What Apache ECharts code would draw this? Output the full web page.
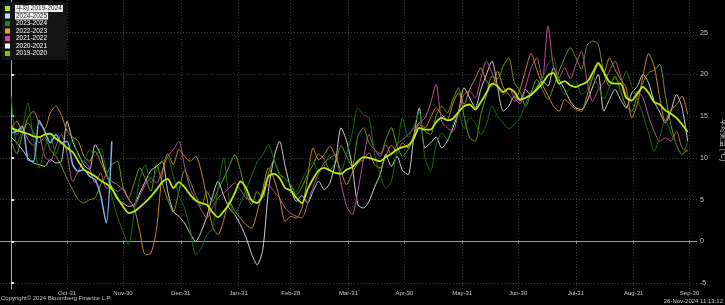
<!DOCTYPE html>
<html><head><meta charset="utf-8">
<script src="https://cdn.jsdelivr.net/npm/echarts@6/dist/echarts.min.js"></script>
<style>html,body{margin:0;padding:0;background:#000;}#c{width:725px;height:305px;}</style>
</head><body><div id="c"></div>
<script>
// Day index counted from Oct-1; every series is sampled every 3 days
const dayStep = 3;
const tickDays = [30, 60, 91, 122, 150, 181, 211, 242, 272, 303, 334, 364];
const tickLabels = ['Oct-31','Nov-30','Dec-31','Jan-31','Feb-28','Mar-31','Apr-30','May-31','Jun-30','Jul-31','Aug-31','Sep-30'];
const yTicks = [-5, 0, 5, 10, 15, 20, 25];
const seriesNames = ['平均 2019-2024','2024-2025','2023-2024','2022-2023','2021-2022','2020-2021','2019-2020'];

const avg = [13.6,13.3,13.1,12.9,12.6,12.5,12.8,12.9,12.3,11.8,
 11.2,10.7,9.6,8.6,8.2,7.8,7.3,6.9,6.3,5.2,
 4.2,3.4,3.6,4.1,4.7,5.4,6.2,7.1,7.5,6.4,
 7.1,6.5,5.6,4.9,4.6,4.4,3.5,2.9,3.6,4.5,
 5.8,7.2,6.4,4.9,4.6,5.6,7.8,8.1,7.6,6.4,
 6.1,5.2,4.6,6.2,7.5,8.5,8.8,8.5,8.2,8.1,
 8.6,8.9,9.6,10.1,10,9.8,9.6,10.1,10.5,11,
 11.3,11.5,12.3,13.6,13.4,13.4,14.3,14.8,14.5,14.7,
 15.5,16.2,16.4,15.8,16.7,17.8,18.9,18.6,17.9,18.3,
 17.9,17,17.2,17.6,18.2,18.9,19.9,20.2,18.9,19.2,
 18.7,18.5,18.8,19.1,20.2,21.4,20.3,19.1,18.9,18.9,
 17.2,16.9,17.7,18.5,17.8,16.7,16.4,15.7,15.3,14.8,14,13.1];

const y2024 = [13.0,13.2,13.8,9.8,9.6,14.5,13.2,11.8,12.8,11.8,12.0,9.2,8.4,8.6,7.8,7.4,5.5,2.2,12.0];

const y2023 = [17.4,11.6,13.5,16.6,12.0,8.8,11.2,12.6,10.5,12.0,
 10.8,12.4,10.2,9.6,11.0,10.2,11.2,8.5,5.4,3.0,
 1.2,-0.4,3.5,7.5,9.2,7.0,8.5,9.6,10.0,7.8,
 5.5,4.0,1.5,-1.6,-0.8,0.8,1.5,6.5,10.0,5.0,
 3.2,4.6,6.2,7.8,9.5,10.4,11.6,9.8,8.2,7.5,
 6.8,6.0,7.4,8.6,9.5,8.2,9.0,10.4,9.2,8.5,
 10.5,13.0,16.0,15.2,14.8,10.5,8.0,6.4,7.2,11.0,
 14.8,12.5,13.8,15.5,10.0,8.4,11.5,13.0,12.2,14.0,
 15.5,13.5,14.8,14.2,12.8,14.0,16.2,15.0,14.2,13.5,
 14.0,14.8,16.5,17.8,18.6,19.5,21.2,22.0,19.0,17.6,
 18.4,19.2,17.6,18.2,19.8,18.6,17.0,18.5,19.6,19.0,
 20.4,18.6,17.0,15.2,13.0,10.8,12.5,14.5,13.0,11.6,10.4,12.0];

const y2022 = [13.5,14.4,13.2,14.8,15.6,14.2,13.5,15.4,16.2,15.1,
 13.2,12.5,12.0,10.2,9.6,10.8,9.5,8.0,7.2,6.8,
 6.2,5.1,4.0,1.2,-1.6,-1.4,1.5,8.0,10.5,9.2,
 11.0,10.2,9.6,10.2,8.4,5.2,1.8,0.8,2.5,4.8,
 3.6,2.8,2.0,1.6,3.5,6.2,8.8,7.5,5.2,2.4,
 3.0,2.8,4.0,7.6,11.2,9.8,10.4,11.4,10.2,8.4,
 6.8,8.2,9.4,9.8,10.6,9.2,8.8,10.2,11.5,10.8,
 11.8,11.2,12.8,14.2,13.6,14.8,16.0,15.2,14.6,16.5,
 17.8,16.4,18.2,19.5,20.8,19.2,18.6,20.4,18.5,17.6,
 16.8,18.2,20.5,22.5,20.6,18.8,17.5,16.2,15.6,17.0,
 16.4,15.8,15.6,17.5,19.6,21.2,20.2,22.0,20.6,19.4,
 18.4,14.8,16.5,19.8,22.5,21.0,17.2,14.4,15.8,16.4,17.4,15.2];

const y2021 = [14.2,12.8,13.6,12.2,11.5,12.6,10.2,9.6,11.4,12.8,
 10.5,7.2,8.4,9.6,8.8,7.0,8.2,6.4,6.4,6.0,
 6.4,5.0,4.2,5.5,6.8,7.6,7.0,8.5,10.2,11.0,
 12.0,9.0,6.4,5.0,3.8,2.8,4.0,5.2,5.8,6.4,
 7.0,6.2,5.2,5.0,4.6,6.0,6.8,6.0,5.2,4.0,
 3.4,3.0,2.8,4.5,6.5,8.2,9.4,10.0,10.4,7.0,
 4.2,3.2,6.0,9.8,12.8,11.0,10.2,11.6,10.4,11.6,
 12.2,12.8,13.6,14.2,14.8,16.5,18.8,14.4,13.6,13.2,
 15.4,17.6,18.0,17.2,19.5,21.6,20.2,18.5,17.6,18.4,
 17.2,16.5,18.5,20.8,22.0,19.4,25.8,21.0,19.6,20.8,
 19.5,21.2,22.8,19.2,16.8,18.2,19.0,20.4,21.6,19.8,
 17.5,16.8,18.0,17.2,15.0,13.2,12.0,12.4,12.0,13.2,11.2,10.8];

const y2020 = [12.5,11.8,11.0,10.0,9.4,9.2,9.0,9.8,9.4,9.6,
 14.4,12.0,10.5,9.2,8.6,11.6,10.4,8.0,6.5,5.0,
 4.6,4.2,4.4,5.8,7.2,8.5,9.0,9.6,6.0,3.6,
 3.0,2.2,1.0,0.0,1.2,3.0,5.4,7.2,5.5,4.0,
 3.2,2.0,0.5,-1.5,-2.8,-1.0,6.0,10.0,12.0,9.0,
 6.4,4.8,5.5,4.6,6.0,7.2,6.2,7.0,9.5,13.6,
 12.0,9.0,4.4,4.0,4.8,6.5,8.0,10.4,9.0,10.2,
 8.5,8.0,12.5,16.0,11.2,11.8,12.5,11.2,12.0,13.6,
 15.5,18.4,17.2,16.0,18.2,20.0,21.6,18.5,15.6,16.2,
 17.4,16.8,18.2,17.5,18.4,19.2,18.6,20.8,19.4,18.2,
 16.8,16.0,15.8,16.8,18.5,20.0,15.6,17.0,18.2,17.0,
 16.0,17.8,18.6,20.0,19.0,16.8,15.5,14.2,15.6,17.6,16.0,12.0];

const y2019 = [12.0,10.5,12.8,14.2,13.0,11.8,12.5,11.0,10.2,9.0,
 7.5,6.2,5.0,4.6,5.0,5.2,6.8,8.0,9.2,9.6,
 6.5,5.2,7.0,8.8,7.5,6.0,9.2,7.0,5.0,3.5,
 6.0,8.5,7.2,5.5,4.2,6.0,4.8,6.2,7.5,9.0,
 10.4,8.5,5.8,4.4,6.0,5.2,8.2,9.6,8.0,7.5,
 6.8,5.6,6.5,8.0,9.2,10.5,9.8,8.6,9.4,11.5,
 10.2,9.0,12.6,13.6,11.8,11.0,10.5,12.2,13.6,11.5,
 10.2,11.0,12.4,14.0,13.2,12.8,15.0,16.2,15.4,17.0,
 18.4,15.0,12.4,12.0,15.2,17.5,19.8,19.5,21.0,22.0,
 19.0,18.0,16.2,17.8,19.4,18.2,17.0,18.5,20.4,22.0,
 23.2,22.0,20.6,23.5,24.0,23.6,20.2,18.6,19.8,18.0,
 16.2,15.6,17.5,19.0,20.2,20.5,21.2,17.5,14.0,11.5,10.4,11.0];

const colors = ['#b6ea12','#78b4f0','#0f720f','#c38a18','#bf4f98','#d2d2d2','#6c9a12'];
const legendColors = ['#a6e022','#c8dcf4','#1a8a1a','#f2a400','#e0449e','#ffffff','#82c200'];
const seriesValues = [avg, y2024, y2023, y2022, y2021, y2020, y2019];

function toPairs(arr){ return arr.map((v,i)=>[i*dayStep, v]); }

const chart = echarts.init(document.getElementById('c'), null, {renderer:'canvas'});
const font = 'Arial, "Liberation Sans", "Noto Sans CJK JP", sans-serif';

const series = seriesNames.map((name, k) => ({
  name: name,
  type: 'line',
  data: toPairs(seriesValues[k]),
  showSymbol: false,
  smooth: 0.25,
  color: colors[k],
  lineStyle: {width: k === 0 ? 1.8 : (k === 1 ? 1.5 : 1), color: colors[k]},
  z: k === 0 ? 20 : (k === 1 ? 19 : 10 - k),
  animation: false
}));

chart.setOption({
  backgroundColor: '#000',
  animation: false,
  textStyle: {fontFamily: font},
  grid: {left: 0, right: 28, top: -9, bottom: 16, containLabel: false, outerBoundsMode: 'none'},
  legend: {
    orient: 'vertical', left: 2, top: 2, padding: [3, 4, 3, 3],
    backgroundColor: '#141414',
    icon: 'rect', itemWidth: 5, itemHeight: 5, itemGap: 0.5,
    textStyle: {color: '#ffffff', fontSize: 6.5, lineHeight: 7, fontFamily: font, padding: [0, 1, 0, 1]},
    data: seriesNames.map((n, k) => ({
      name: n,
      itemStyle: {color: legendColors[k]},
      textStyle: k < 2 ? {backgroundColor: '#f2f2f2', color: '#222'} : {}
    }))
  },
  xAxis: {
    type: 'value', min: -6, max: 368,
    axisLine: {show: true, lineStyle: {color: '#9a9a9a', width: 1}},
    axisTick: {show: true, customValues: tickDays, length: 2, lineStyle: {color: '#9a9a9a'}},
    axisLabel: {customValues: tickDays, color: '#c8c8c8', fontSize: 6, margin: 1,
      formatter: v => { const i = tickDays.indexOf(v); return i >= 0 ? tickLabels[i] : ''; }},
    splitLine: {show: true, customValues: tickDays, lineStyle: {color: '#3c3c3c', type: [1, 2], width: 1}}
  },
  yAxis: {
    type: 'value', position: 'right', min: -5.7, max: 30,
    name: '平均気温 (°C)', nameLocation: 'middle', nameRotate: -90, nameGap: 22,
    nameTextStyle: {color: '#c8c8c8', fontSize: 7, fontFamily: font},
    axisLine: {show: true, lineStyle: {color: '#b0b0b0', width: 1}},
    axisTick: {show: true, customValues: yTicks, length: 3, inside: false, lineStyle: {color: '#e0e0e0', width: 2}},
    axisLabel: {customValues: yTicks, color: '#c8c8c8', fontSize: 7, margin: 3,
      formatter: v => String(v)},
    splitLine: {show: true, customValues: yTicks, lineStyle: {color: '#3c3c3c', type: [1, 2], width: 1}}
  },
  graphic: [
    {type: 'text', left: 1, bottom: 4, style: {text: 'Copyright© 2024 Bloomberg Finance L.P.', fill: '#c8c8c8', fontSize: 6, fontFamily: font}},
    {type: 'text', right: 2, bottom: 1, style: {text: '26-Nov-2024 11:13:12', fill: '#c8c8c8', fontSize: 6, fontFamily: font}}
  ],
  series: series
});
</script></body></html>
